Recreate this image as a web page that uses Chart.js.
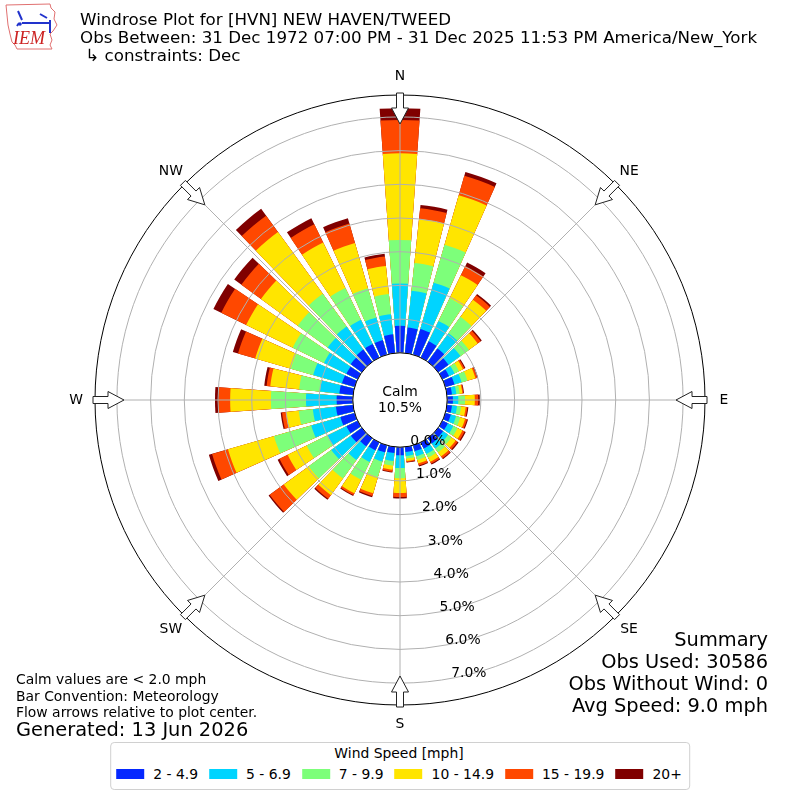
<!DOCTYPE html>
<html lang="en">
<head>
    <meta charset="UTF-8">
    <title>Windrose HVN</title>
    <script src="https://cdn.jsdelivr.net/npm/chart.js@4.4.0/dist/chart.umd.min.js"></script>
    <style>
        body { margin: 0; background: #fff; }
        #wrap { position: relative; width: 800px; height: 800px; font-family: "DejaVu Sans", sans-serif; color: #000; }
        #chart { position: absolute; left: 0; top: 0; }
        .txt { position: absolute; white-space: pre; }
        #legend { position: absolute; left: 400px; top: 742px; transform: translateX(-50%); border: 1px solid #d0d0d0; border-radius: 4px;
                  padding: 2px 7px 6px 5px; background: #fff; font-size: 13.9px; }
        #legend .ttl { text-align: center; line-height: 17px; }
        #legend .row { display: flex; align-items: center; margin-top: 3px; line-height: 18px; white-space: nowrap; }
        #legend .sw { width: 28px; height: 10px; margin-right: 9px; }
        #legend .lb { margin-right: 11px; }
        #legend .lb:last-child { margin-right: 0; }
    </style>
</head>
<body>
<div id="wrap">
    <canvas id="chart" width="800" height="800"></canvas>

    <svg class="txt" style="left:0;top:0" width="62" height="54">
        <path d="M6 5 L50 4 L51 8 L55 12 L54 19 L57 25 L53 31 L50 34 L52 40 L50 45 L52 49 L17 49 L15 45 L12 42 L10 34 L8 25 L7 15 Z"
              fill="none" stroke="#e07070" stroke-width="1"/>
        <path d="M18 11 l4 9 M22 23 h28 M40 14 l7 4 M50 20 v13 M19 23 l-2 3" stroke="#2233cc" stroke-width="2" fill="none"/>
        <circle cx="20" cy="24" r="1.8" fill="#2233cc"/>
        <text x="13" y="44" font-family="Liberation Serif, serif" font-style="italic" font-size="18" fill="#cc2222">IEM</text>
    </svg>

    <div class="txt" style="left:80px;top:10px;font-size:16.7px;line-height:18.2px;">Windrose Plot for [HVN] NEW HAVEN/TWEED
Obs Between: 31 Dec 1972 07:00 PM - 31 Dec 2025 11:53 PM America/New_York
 ↳ constraints: Dec</div>

    <div class="txt" style="left:16px;top:671px;font-size:13.9px;line-height:16.5px;">Calm values are &lt; 2.0 mph
Bar Convention: Meteorology
Flow arrows relative to plot center.</div>
    <div class="txt" style="left:16px;top:719px;font-size:19.4px;line-height:22px;">Generated: 13 Jun 2026</div>

    <div class="txt" style="right:32px;top:629px;font-size:19.4px;line-height:22px;text-align:right;">Summary
Obs Used: 30586
Obs Without Wind: 0
Avg Speed: 9.0 mph</div>

    <div id="legend"><div class="ttl">Wind Speed [mph]</div><div class="row" id="legrow"></div></div>
</div>

<script>
// direction bins (degrees, meteorological: where the wind comes from)
const dirs = [0, 10, 20, 30, 40, 50, 60, 70, 80, 90, 100, 110, 120, 130, 140, 150, 160, 170,
              180, 190, 200, 210, 220, 230, 240, 250, 260, 270, 280, 290, 300, 310, 320, 330, 340, 350];

// percent of obs per direction, one array per speed bin
const spd2to5   = [0.80, 0.76, 0.79, 0.54, 0.49, 0.38, 0.22, 0.28, 0.15, 0.17, 0.15, 0.17, 0.18, 0.18, 0.20, 0.20, 0.18, 0.15,
                   0.24, 0.18, 0.22, 0.26, 0.30, 0.40, 0.37, 0.44, 0.51, 0.48, 0.41, 0.39, 0.37, 0.41, 0.45, 0.45, 0.45, 0.56];
const spd5to7   = [1.26, 1.10, 1.43, 0.67, 0.56, 0.44, 0.18, 0.22, 0.13, 0.16, 0.15, 0.16, 0.18, 0.18, 0.18, 0.18, 0.16, 0.12,
                   0.38, 0.24, 0.28, 0.39, 0.50, 0.72, 0.63, 0.90, 0.69, 0.91, 0.58, 0.89, 0.74, 0.84, 0.85, 0.80, 0.70, 0.60];
const spd7to10  = [1.29, 0.83, 1.17, 0.75, 0.60, 0.31, 0.15, 0.18, 0.10, 0.20, 0.12, 0.13, 0.14, 0.13, 0.14, 0.12, 0.11, 0.08,
                   0.30, 0.14, 0.48, 0.58, 0.68, 0.83, 0.68, 1.15, 0.42, 1.04, 0.62, 0.69, 1.03, 1.10, 1.20, 1.05, 0.90, 0.60];
const spd10to15 = [2.57, 1.31, 1.53, 0.76, 0.63, 0.32, 0.13, 0.25, 0.08, 0.29, 0.14, 0.15, 0.16, 0.15, 0.15, 0.14, 0.11, 0.07,
                   0.44, 0.12, 0.50, 0.45, 0.61, 0.91, 0.63, 1.42, 0.38, 1.21, 0.86, 1.10, 1.54, 1.35, 2.26, 1.50, 1.40, 0.84];
const spd15to20 = [0.99, 0.32, 0.60, 0.30, 0.16, 0.11, 0.05, 0.05, 0.03, 0.10, 0.05, 0.06, 0.07, 0.07, 0.07, 0.06, 0.06, 0.03,
                   0.12, 0.06, 0.08, 0.06, 0.13, 0.52, 0.27, 0.49, 0.12, 0.35, 0.11, 0.53, 0.82, 0.72, 0.60, 0.60, 0.60, 0.28];
const spd20plus = [0.35, 0.10, 0.12, 0.12, 0.05, 0.04, 0.03, 0.03, 0.02, 0.05, 0.03, 0.03, 0.04, 0.04, 0.03, 0.03, 0.03, 0.02,
                   0.04, 0.02, 0.04, 0.03, 0.04, 0.04, 0.06, 0.10, 0.04, 0.10, 0.07, 0.16, 0.26, 0.26, 0.25, 0.20, 0.16, 0.08];

const speedBins = ['2 - 4.9', '5 - 6.9', '7 - 9.9', '10 - 14.9', '15 - 19.9', '20+'];
const binColors = ['#0528ff', '#00d4ff', '#7dff7a', '#ffe500', '#ff4800', '#800000'];
const compass = ['N', 'NE', 'E', 'SE', 'S', 'SW', 'W', 'NW'];
const rTicks = [0, 1, 2, 3, 4, 5, 6, 7];
const calmPct = 10.5;

const series = [spd2to5, spd5to7, spd7to10, spd10to15, spd15to20, spd20plus];

// legend
const legrow = document.getElementById('legrow');
speedBins.forEach((name, k) => {
    legrow.insertAdjacentHTML('beforeend',
        '<span class="sw" style="background:' + binColors[k] + '"></span><span class="lb">' + name + '</span>');
});

// each direction gets a bar slot and a small empty gap slot after it
const labels = [];
dirs.forEach(d => { labels.push(d + '°'); labels.push(''); });

// stacked look: cumulative totals, biggest drawn first (chart.js paints last dataset first)
const running = dirs.map(() => 0);
const datasets = series.map((vals, k) => {
    const data = [];
    vals.forEach((v, i) => {
        running[i] += v;
        data.push(Math.round(running[i] * 1000) / 1000, null);
    });
    return {
        label: speedBins[k],
        data: data,
        backgroundColor: binColors[k],
        borderWidth: 0,
        angle: c => (c.dataIndex % 2 ? 2 : 8)
    };
});

const R_MIN = -1.4, R_MAX = 7.65;

const roseDecor = {
    id: 'roseDecor',
    afterDraw(chart) {
        const s = chart.scales.r;
        const ctx = chart.ctx;
        const cx = s.xCenter, cy = s.yCenter;
        const r0 = s.getDistanceFromCenterForValue(0);
        const rOut = s.getDistanceFromCenterForValue(s.max);
        const pt = (deg, r) => {
            const a = deg * Math.PI / 180;
            return [cx + r * Math.sin(a), cy - r * Math.cos(a)];
        };
        ctx.save();

        // spokes every 45 deg
        ctx.strokeStyle = '#b0b0b0';
        ctx.lineWidth = 1;
        compass.forEach((c, i) => {
            const p1 = pt(i * 45, r0), p2 = pt(i * 45, rOut);
            ctx.beginPath();
            ctx.moveTo(p1[0], p1[1]);
            ctx.lineTo(p2[0], p2[1]);
            ctx.stroke();
        });

        // calm circle
        ctx.beginPath();
        ctx.arc(cx, cy, r0, 0, Math.PI * 2);
        ctx.fillStyle = '#fff';
        ctx.fill();
        ctx.strokeStyle = '#000';
        ctx.stroke();

        ctx.fillStyle = '#000';
        ctx.font = '13.9px "DejaVu Sans"';
        ctx.textAlign = 'center';
        ctx.textBaseline = 'middle';
        ctx.fillText('Calm', cx, cy - 8);
        ctx.fillText(calmPct.toFixed(1) + '%', cx, cy + 8);

        // radial tick labels
        ctx.textAlign = 'left';
        rTicks.forEach(v => {
            const p = pt(170, s.getDistanceFromCenterForValue(v));
            ctx.fillText(v.toFixed(1) + '%', p[0] + 2, p[1] - 5);
        });

        // compass labels and inward flow arrows
        ctx.textAlign = 'center';
        compass.forEach((c, i) => {
            const a = i * 45;
            const lp = pt(a, rOut + 19);
            ctx.fillStyle = '#000';
            ctx.fillText(c, lp[0], lp[1]);

            const sh = 3.5, hw = 8.5;
            const rad = a * Math.PI / 180;
            const ux = Math.sin(rad), uy = -Math.cos(rad);
            const vx = -uy, vy = ux;
            const P = (r, w) => [cx + ux * r + vx * w, cy + uy * r + vy * w];
            const shape = [P(rOut + 2, -sh), P(rOut + 2, sh), P(rOut - 13, sh), P(rOut - 13, hw),
                           P(rOut - 29, 0), P(rOut - 13, -hw), P(rOut - 13, -sh)];
            ctx.beginPath();
            shape.forEach((q, j) => (j ? ctx.lineTo(q[0], q[1]) : ctx.moveTo(q[0], q[1])));
            ctx.closePath();
            ctx.fillStyle = '#fff';
            ctx.fill();
            ctx.strokeStyle = '#222';
            ctx.stroke();
        });
        ctx.restore();
    }
};

new Chart(document.getElementById('chart').getContext('2d'), {
    type: 'polarArea',
    data: { labels: labels, datasets: datasets },
    options: {
        responsive: false,
        animation: false,
        events: [],
        layout: { padding: 95 },
        plugins: { legend: { display: false }, tooltip: { enabled: false } },
        scales: {
            r: {
                min: R_MIN,
                max: R_MAX,
                startAngle: -4,
                ticks: { display: false },
                afterBuildTicks: ax => { ax.ticks = rTicks.concat([R_MAX]).map(v => ({ value: v })); },
                grid: {
                    z: 1,
                    lineWidth: 1,
                    color: c => (c.tick && c.tick.value === R_MAX ? '#000' : '#b0b0b0')
                },
                angleLines: { display: false },
                pointLabels: { display: false }
            }
        }
    },
    plugins: [roseDecor]
});
</script>
</body>
</html>
